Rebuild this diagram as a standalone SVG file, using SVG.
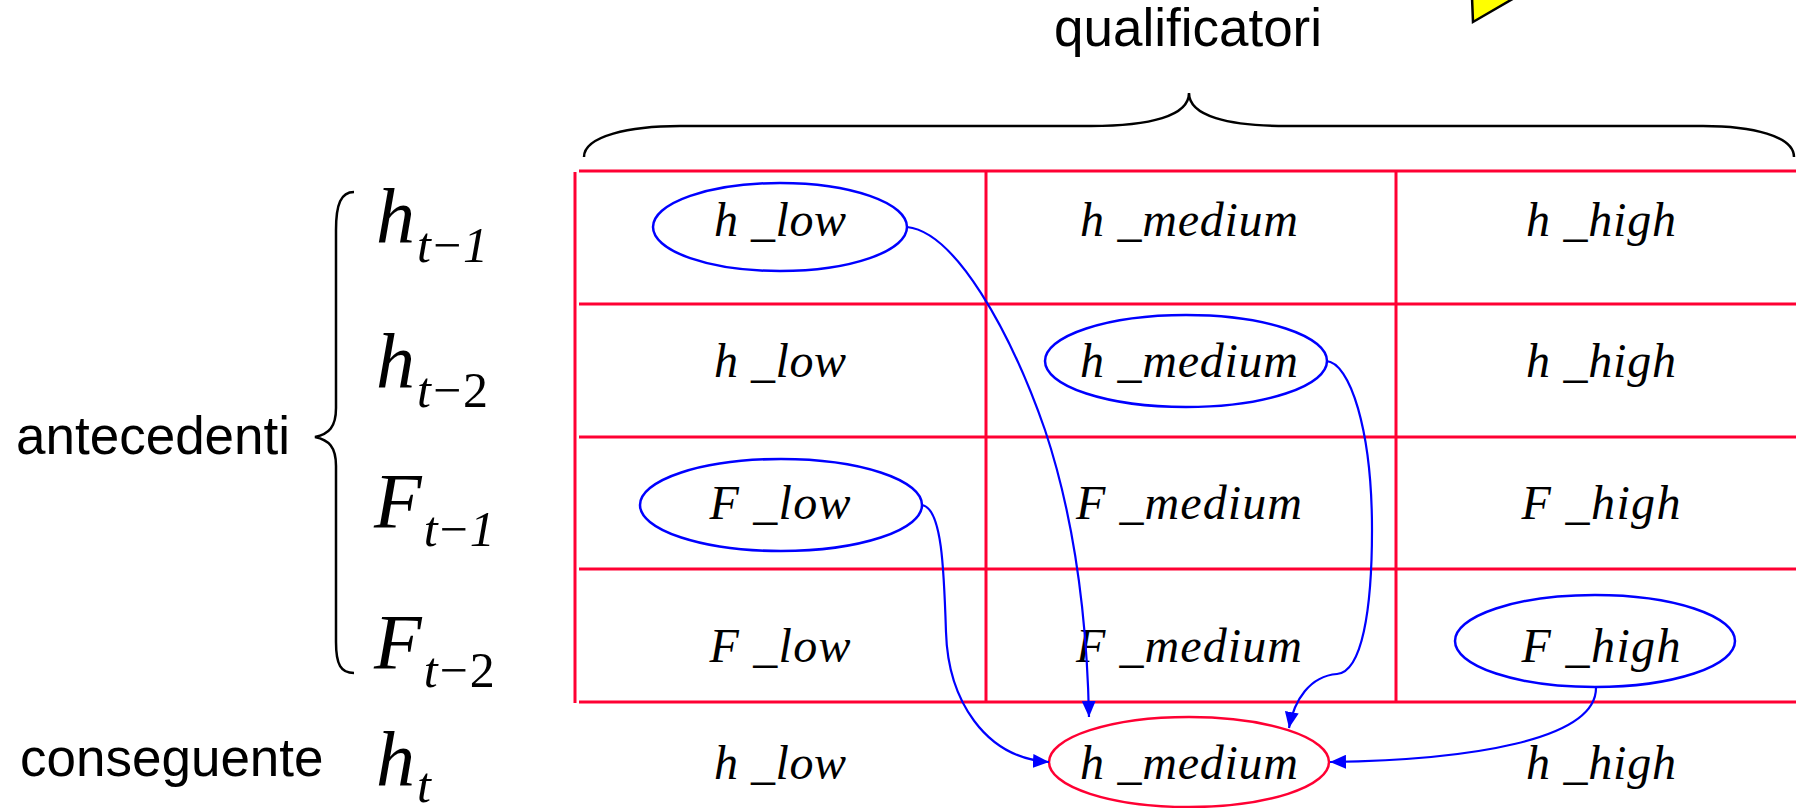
<svg xmlns="http://www.w3.org/2000/svg" width="1796" height="808" viewBox="0 0 1796 808">
<style>
.grid{stroke:#FF0033;stroke-width:3;fill:none}
.cell{font-family:"Liberation Serif","Times New Roman",serif;font-style:italic;font-size:48px;fill:#000;text-anchor:middle}
.math{font-family:"Liberation Serif","Times New Roman",serif;font-style:italic;font-size:78px;fill:#000}
.sub{font-size:50px}
.up{font-style:normal}
.lbl{font-family:"Liberation Sans",Arial,sans-serif;font-size:53px;fill:#000}
.sel{fill:none;stroke:#0000FF;stroke-width:2.5}
.res{fill:none;stroke:#FF0033;stroke-width:2.5}
.brace{fill:none;stroke:#000;stroke-width:2.5}
.conn{fill:none;stroke:#0000FF;stroke-width:2.2;marker-end:url(#arr)}
</style>
<defs>
<marker id="arr" markerUnits="userSpaceOnUse" markerWidth="16" markerHeight="14" refX="16" refY="7" orient="auto">
<path d="M0,0 L16,7 L0,14 z" fill="#0000FF"/>
</marker>
</defs>
<rect width="1796" height="808" fill="#fff"/>

<g id="callout">
<polygon points="1472,-3 1473,22 1516,-3" fill="#FFFF00" stroke="#000" stroke-width="2.5"/>
</g>

<g id="qualificatori">
<text class="lbl" x="1188" y="46" text-anchor="middle">qualificatori</text>
<path class="brace" d="M584,157 C584,136 630,126 680,126 L1091,126 C1150,126 1189,116 1189,93 C1189,116 1228,126 1287,126 L1703,126 C1752,126 1794,136 1794,157"/>
</g>

<g id="antecedenti">
<text class="lbl" x="16" y="454">antecedenti</text>
<path class="brace" d="M354,192 C341,192 336,204 336,230 L336,408 C336,427 329,434 315,437 C329,440 336,447 336,466 L336,642 C336,665 341,673 354,673"/>
</g>

<g id="conseguente">
<text class="lbl" x="20" y="776">conseguente</text>
</g>

<g id="vars">
<text class="math" x="376" y="243">h<tspan class="sub" dy="19" dx="2">t</tspan><tspan class="sub up" dx="2">−</tspan><tspan class="sub" dx="2">1</tspan></text>
<text class="math" x="376" y="388">h<tspan class="sub" dy="19" dx="2">t</tspan><tspan class="sub up" dx="2">−</tspan><tspan class="sub up" dx="2">2</tspan></text>
<text class="math" x="374" y="527">F<tspan class="sub" dy="19" dx="2">t</tspan><tspan class="sub up" dx="2">−</tspan><tspan class="sub" dx="2">1</tspan></text>
<text class="math" x="374" y="668">F<tspan class="sub" dy="19" dx="2">t</tspan><tspan class="sub up" dx="2">−</tspan><tspan class="sub up" dx="2">2</tspan></text>
<text class="math" x="376" y="786">h<tspan class="sub" dy="16" dx="2">t</tspan></text>
</g>

<g id="grid">
<line class="grid" x1="575" y1="172" x2="575" y2="703"/>
<line class="grid" x1="986" y1="172" x2="986" y2="703"/>
<line class="grid" x1="1396" y1="172" x2="1396" y2="703"/>
<line class="grid" x1="579" y1="171" x2="1796" y2="171"/>
<line class="grid" x1="579" y1="304" x2="1796" y2="304"/>
<line class="grid" x1="579" y1="437" x2="1796" y2="437"/>
<line class="grid" x1="579" y1="569" x2="1796" y2="569"/>
<line class="grid" x1="579" y1="702" x2="1796" y2="702"/>
</g>

<g id="r1c1"><ellipse class="sel" cx="780" cy="227" rx="127" ry="44"/><text class="cell" x="780" y="236" textLength="132">h _low</text></g>
<g id="r1c2"><text class="cell" x="1189" y="236" textLength="218">h _medium</text></g>
<g id="r1c3"><text class="cell" x="1601" y="236" textLength="150">h _high</text></g>

<g id="r2c1"><text class="cell" x="780" y="377" textLength="132">h _low</text></g>
<g id="r2c2"><ellipse class="sel" cx="1186" cy="361" rx="141" ry="46"/><text class="cell" x="1189" y="377" textLength="218">h _medium</text></g>
<g id="r2c3"><text class="cell" x="1601" y="377" textLength="150">h _high</text></g>

<g id="r3c1"><ellipse class="sel" cx="781" cy="505" rx="141" ry="46"/><text class="cell" x="780" y="519" textLength="141">F _low</text></g>
<g id="r3c2"><text class="cell" x="1189" y="519" textLength="226">F _medium</text></g>
<g id="r3c3"><text class="cell" x="1601" y="519" textLength="159">F _high</text></g>

<g id="r4c1"><text class="cell" x="780" y="662" textLength="141">F _low</text></g>
<g id="r4c2"><text class="cell" x="1189" y="662" textLength="226">F _medium</text></g>
<g id="r4c3"><ellipse class="sel" cx="1595" cy="641" rx="140" ry="46"/><text class="cell" x="1601" y="662" textLength="159">F _high</text></g>

<g id="r5c1"><text class="cell" x="780" y="779" textLength="132">h _low</text></g>
<g id="r5c2"><ellipse class="res" cx="1189" cy="762" rx="140" ry="45"/><text class="cell" x="1189" y="779" textLength="218">h _medium</text></g>
<g id="r5c3"><text class="cell" x="1601" y="779" textLength="150">h _high</text></g>

<g id="connectors">
<path class="conn" d="M907,227 C955,232 1010,330 1045,430 C1075,520 1087,620 1089,717"/>
<path class="conn" d="M1326,361 C1350,362 1372,430 1372,530 C1372,610 1362,672 1337,674 C1310,676 1294,700 1289,728"/>
<path class="conn" d="M922,505 C942,508 944,570 946,632 C948,700 985,758 1049,762"/>
<path class="conn" d="M1596,688 C1596,740 1470,760 1330,762"/>
</g>
</svg>
